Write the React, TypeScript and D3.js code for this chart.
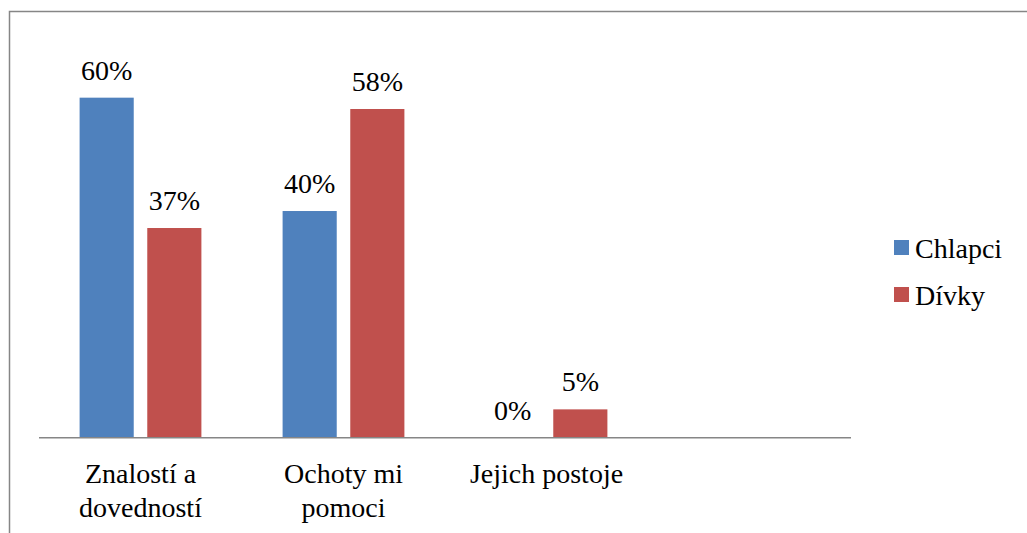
import React from "react";
import * as d3 from "d3";

const categories = ["Znalostí a dovedností", "Ochoty mi pomoci", "Jejich postoje", ""];
const categoryLines = [["Znalostí a", "dovedností"], ["Ochoty mi", "pomoci"], ["Jejich postoje"], []];
const seriesNames = ["Chlapci", "Dívky"];
const chlapci = [0.6, 0.4, 0];
const divky = [0.37, 0.58, 0.05];
const colors = ["#4F81BD", "#C0504D"];

const textStyle = { fontFamily: '"Liberation Serif"' };

const x = d3.scaleBand().domain(categories).range([39, 851]);
const inner = d3
  .scaleBand()
  .domain(seriesNames)
  .range([0, x.bandwidth()])
  .paddingInner(0.2)
  .paddingOuter(0.6);
const y = d3.scaleLinear().domain([0, 0.7]).range([437.7, 41]);

const rows = categories.slice(0, 3).flatMap((c, i) => [
  { cat: c, series: seriesNames[0], value: chlapci[i], color: colors[0] },
  { cat: c, series: seriesNames[1], value: divky[i], color: colors[1] }
]);

function App() {
  return (
    <svg width={1027} height={533} style={{ position: "absolute", left: 0, top: 0, display: "block" }}>
      {/* outer chart border, runs off the right/bottom edge */}
      <rect x={9.5} y={11.5} width={1040} height={540} fill="white" stroke="#868686" strokeWidth={1.5} />

      {rows.map(d => {
        const bx = (x(d.cat) as number) + (inner(d.series) as number);
        return (
          <g key={d.cat + d.series}>
            <rect x={bx} y={y(d.value)} width={inner.bandwidth()} height={y(0) - y(d.value)} fill={d.color} />
            <text
              x={bx + inner.bandwidth() / 2}
              y={y(d.value) - 18}
              textAnchor="middle"
              fontSize={28}
              fill="#000"
              style={textStyle}
            >
              {`${Math.round(d.value * 100)}%`}
            </text>
          </g>
        );
      })}

      <line x1={39} x2={851} y1={y(0)} y2={y(0)} stroke="#868686" strokeWidth={1.5} />

      {categories.map((c, i) => (
        <text key={"cat" + i} textAnchor="middle" fontSize={28} fill="#000" style={textStyle}>
          {categoryLines[i].map((line, j) => (
            <tspan key={j} x={(x(c) as number) + x.bandwidth() / 2} y={483 + j * 34}>
              {line}
            </tspan>
          ))}
        </text>
      ))}

      {seriesNames.map((s, i) => (
        <g key={s} transform={`translate(894, ${240 + i * 47})`}>
          <rect width={15} height={15} fill={colors[i]} />
          <text x={21} y={18} fontSize={28} fill="#000" style={textStyle}>
            {s}
          </text>
        </g>
      ))}
    </svg>
  );
}

export default App;
